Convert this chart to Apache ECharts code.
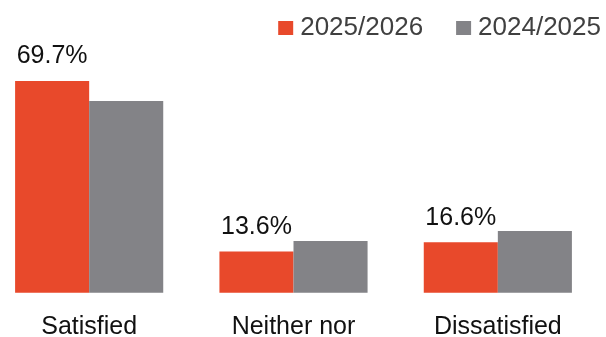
<!DOCTYPE html>
<html>
<head>
<meta charset="utf-8">
<script src="https://cdn.jsdelivr.net/npm/echarts@6/dist/echarts.min.js"></script>
<style>
  html, body { margin: 0; padding: 0; background: #ffffff; }
  #chart { width: 606px; height: 337px; }
</style>
</head>
<body>
<div id="chart"></div>
<script>
// Survey satisfaction, current year against last year
const categories = ['Satisfied', 'Neither nor', 'Dissatisfied'];
const seriesNames = ['2025/2026', '2024/2025'];
const current = [69.7, 13.6, 16.6];
const previous = [63.1, 17.0, 20.3];

const FONT = '"Liberation Sans", Arial, sans-serif';

const chart = echarts.init(document.getElementById('chart'), null, { renderer: 'canvas' });

chart.setOption({
  animation: false,
  backgroundColor: '#ffffff',
  textStyle: { fontFamily: FONT },
  legend: {
    right: 0,
    top: 10,
    itemWidth: 15,
    itemHeight: 14,
    itemGap: 33,
    icon: 'rect',
    textStyle: { fontFamily: FONT, fontSize: 26, color: '#404040', padding: [0, 0, 0, 2] },
    data: seriesNames
  },
  grid: {
    left: -13,
    right: 6,
    top: 49.7,
    bottom: 44.3,
    containLabel: false,
    outerBoundsMode: 'none'
  },
  xAxis: {
    type: 'category',
    data: categories,
    axisLine: { show: false },
    axisTick: { show: false },
    axisLabel: {
      fontFamily: FONT,
      fontSize: 25,
      color: '#111111',
      margin: 22
    }
  },
  yAxis: {
    type: 'value',
    min: 0,
    max: 80,
    show: false,
    splitLine: { show: false }
  },
  series: [
    {
      name: seriesNames[0],
      type: 'bar',
      data: current,
      barGap: '0%',
      barCategoryGap: '27.5%',
      itemStyle: { color: '#E8492B' },
      label: {
        show: true,
        position: 'top',
        distance: 12,
        formatter: p => p.value.toFixed(1) + '%',
        fontFamily: FONT,
        fontSize: 25,
        color: '#111111'
      }
    },
    {
      name: seriesNames[1],
      type: 'bar',
      data: previous,
      barGap: '0%',
      barCategoryGap: '27.5%',
      itemStyle: { color: '#838387' }
    }
  ]
});
</script>
</body>
</html>
